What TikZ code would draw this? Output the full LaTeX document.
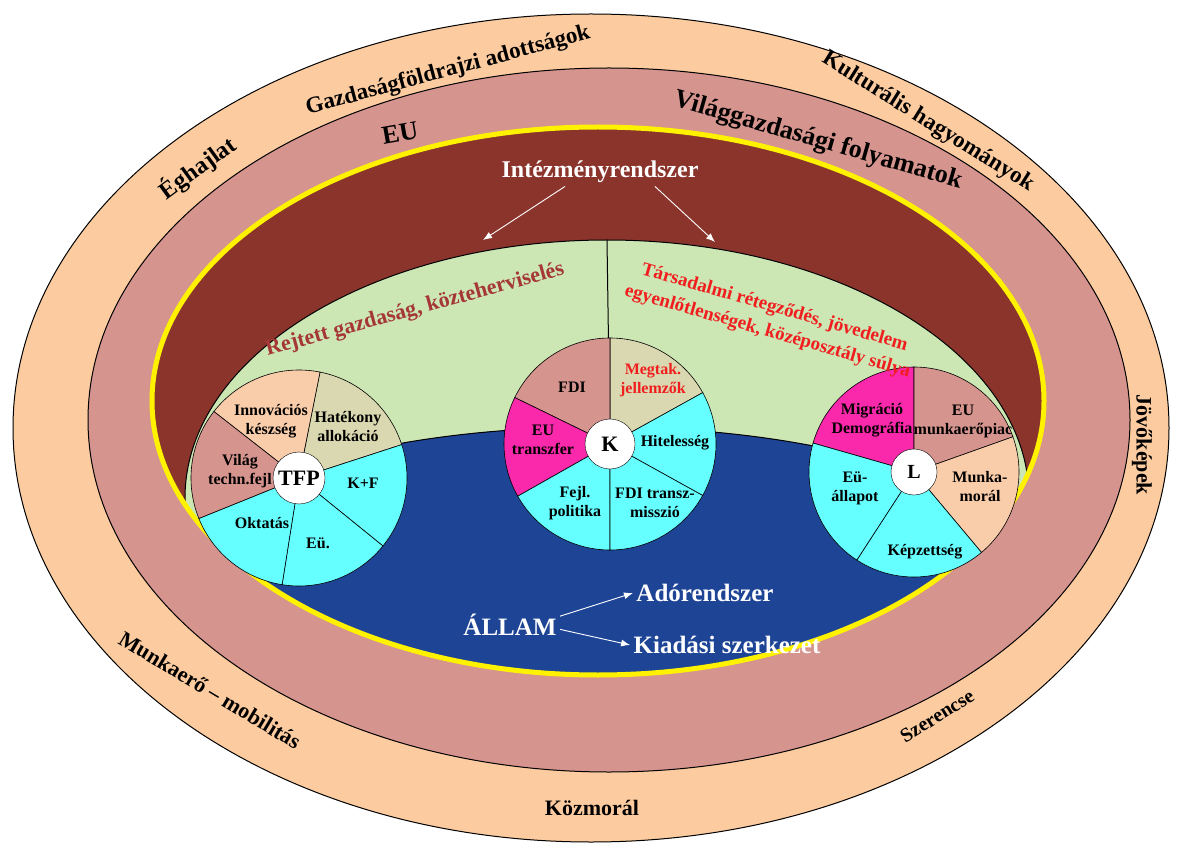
\documentclass[tikz,border=0pt]{standalone}
\usepackage{fontspec}
\setmainfont{Liberation Serif}
\usepackage{xcolor}
\usepackage{tikz}
\usetikzlibrary{arrows.meta}
\usetikzlibrary{positioning}

\definecolor{outerband}{RGB}{252,204,160}
\definecolor{roseband}{RGB}{214,148,142}
\definecolor{wine}{RGB}{138,52,44}
\definecolor{palegreen}{RGB}{204,230,180}
\definecolor{stateblue}{RGB}{30,68,150}
\definecolor{cyanfill}{RGB}{102,255,255}
\definecolor{magfill}{RGB}{250,40,170}
\definecolor{peachfill}{RGB}{250,205,170}
\definecolor{khaki}{RGB}{218,216,176}
\definecolor{rejtett}{RGB}{165,55,55}
\definecolor{tarsred}{RGB}{240,30,30}

\begin{document}
\begin{tikzpicture}[x=1pt, y=1pt,
  outer/.style={font=\fontsize{22}{24}\selectfont\bfseries},
  slice/.style={font=\fontsize{16}{19}\selectfont\bfseries, align=center, inner sep=0pt},
  hub/.style={circle, draw, fill=white, inner sep=0pt, font=\fontsize{22}{24}\selectfont\bfseries},
  sector/.style={draw=black, line width=0.6pt},
  state/.style={text=white, font=\fontsize{25}{28}\selectfont\bfseries},
  arr/.style={white, line width=0.9pt, -{Latex[length=9pt,width=7pt]}}]

  \useasboundingbox (0,0) rectangle (1181,-850);

  % rings
  \filldraw[fill=outerband, line width=1pt] (591,-428) ellipse[x radius=578, y radius=414];
  \filldraw[fill=roseband, line width=1pt] (609,-420) ellipse[x radius=521, y radius=352];
  \fill[wine] (598,-401) ellipse[x radius=446, y radius=274];
  \begin{scope}
    \clip (598,-401) ellipse[x radius=446, y radius=274];
    \filldraw[fill=palegreen, line width=1pt] (607,-498) ellipse[x radius=422, y radius=258];
    \filldraw[fill=stateblue, line width=1pt] (600,-553) ellipse[x radius=404, y radius=126];
  \end{scope}
  \draw[yellow, line width=5pt] (598,-401) ellipse[x radius=446, y radius=274];

  \coordinate (tfp) at (299,-478);
  \coordinate (kc) at (610,-444);
  \coordinate (lc) at (914,-472);
  \coordinate (gtop) at (607,-240);
  \draw[line width=1pt] (gtop) -- (kc);

  % TFP pie
  \foreach \a/\b/\c in {78.7/142/peachfill, 18/78.7/khaki, -39/18/cyanfill,
                        -99/-39/cyanfill, -158/-99/cyanfill, 142/202/roseband}
    \filldraw[sector, fill=\c] (tfp) -- ++(\a:108) arc[start angle=\a, end angle=\b, radius=108] -- cycle;
  \node[hub, minimum size=52pt] (tfphub) at (tfp) {TFP};

  % K pie
  \foreach \a/\b/\c in {29/90/khaki, 90/154/roseband, 154/209.5/magfill,
                        209.5/270/cyanfill, 270/331/cyanfill, -29/29/cyanfill}
    \filldraw[sector, fill=\c] (kc) -- ++(\a:106) arc[start angle=\a, end angle=\b, radius=106] -- cycle;
  \node[hub, minimum size=50pt] (khub) at (kc) {K};

  % L pie
  \foreach \a/\b/\c in {90/164/magfill, 19.6/90/roseband, -50/19.6/peachfill,
                        -123/-50/cyanfill, 164/237/cyanfill}
    \filldraw[sector, fill=\c] (lc) -- ++(\a:105) arc[start angle=\a, end angle=\b, radius=105] -- cycle;
  \node[hub, minimum size=46pt, font=\fontsize{20}{22}\selectfont\bfseries] (lhub) at (lc) {L};

  % slice labels
  \node[slice] (innov) at (271,-421) {Innovációs\\készség};
  \node[slice] (hatek) at (348,-427) {Hatékony\\allokáció};
  \node[slice] (vilagt) at (240,-471) {Világ\\techn.fejl};
  \node[slice] (kf) at (363,-483) {K+F};
  \node[slice] (oktat) at (262,-523) {Oktatás};
  \node[slice] (eu1) at (318,-543) {Eü.};

  \node[slice] (fdi) at (572,-387) {FDI};
  \node[slice, text=tarsred] (megtak) at (653,-380) {Megtak.\\jellemzők};
  \node[slice] (eutr) at (543,-440) {EU\\transzfer};
  \node[slice] (hitel) at (675,-443) {Hitelesség};
  \node[slice] (fejl) at (575,-503) {Fejl.\\politika};
  \node[slice] (fditr) at (655,-503) {FDI transz-\\misszió};

  \node[slice] (migr) at (872,-420) {Migráció\\Demográfia};
  \node[slice] (eumunka) at (963,-421) {EU\\munkaerőpiac};
  \node[slice] (munkam) at (980,-487) {Munka-\\morál};
  \node[slice] (euall) at (855,-488) {Eü-\\állapot};
  \node[slice] (kepz) at (925,-552) {Képzettség};

  % ring labels
  \node[outer, font=\fontsize{23}{25}\selectfont\bfseries, rotate=15] (gazd) at (448,-71) {Gazdaságföldrajzi adottságok};
  \node[outer, font=\fontsize{23}{25}\selectfont\bfseries, rotate=-32] (kult) at (928,-122) {Kulturális hagyományok};
  \node[outer, font=\fontsize{24}{26}\selectfont\bfseries, rotate=36] (egh) at (198,-168) {Éghajlat};
  \node[outer, rotate=-90] (jovo) at (1142,-445) {Jövőképek};
  \node[outer, rotate=-31] (mobil) at (210,-690) {Munkaerő – mobilitás};
  \node[outer] (kozm) at (592,-808) {Közmorál};
  \node[outer, font=\fontsize{20}{22}\selectfont\bfseries, rotate=32] (szer) at (937,-716) {Szerencse};
  \node[outer, font=\fontsize{26}{28}\selectfont\bfseries, rotate=10] (eu) at (400,-133) {EU};
  \node[outer, font=\fontsize{26}{28}\selectfont\bfseries, rotate=-16] (vgf) at (818,-141) {Világgazdasági folyamatok};

  % inner labels
  \node[state, font=\fontsize{24}{26}\selectfont\bfseries] (inst) at (600,-172) {Intézményrendszer};
  \coordinate (instl) at (483,-240);
  \coordinate (instr) at (715,-242);
  \draw[arr] ([xshift=-35pt]inst.south) -- (instl);
  \draw[arr] ([xshift=55pt]inst.south) -- (instr);

  \node[outer, text=rejtett, rotate=15.3] (rejt) at (415,-310) {Rejtett gazdaság, közteherviselés};
  \node[text=tarsred, font=\fontsize{19}{25}\selectfont\bfseries, align=center, rotate=-16] (tars) at (771,-320)
    {Társadalmi rétegződés, jövedelem\\egyenlőtlenségek, középosztály súlya};

  \node[state] (allam) at (510,-625) {ÁLLAM};
  \node[state] (ado) at (705,-593) {Adórendszer};
  \node[state] (kiad) at (727,-645) {Kiadási szerkezet};
  \draw[arr] (allam.10) -- (ado.west);
  \draw[arr] (allam.-5) -- (kiad.west);
\end{tikzpicture}
\end{document}
